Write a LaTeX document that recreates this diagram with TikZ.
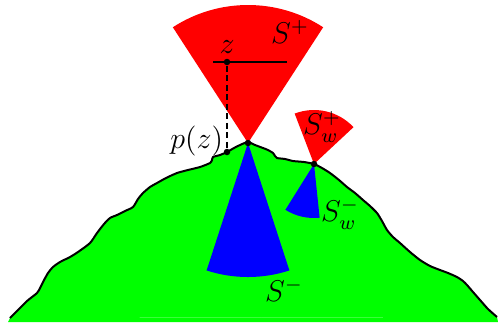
\documentclass[tikz,border=0pt]{standalone}
\usepackage{amsmath, amssymb}
\usepackage{xcolor}
\usepackage{tikz}
\usetikzlibrary{arrows.meta, positioning, calc}

\begin{document}
\begin{tikzpicture}[
    x=0.4pt, y=0.4pt,
    hill/.style={fill=green, draw=black, line width=0.8pt, line join=round},
    dot/.style={circle, fill=black, inner sep=0pt, minimum size=2.6pt},
    lbl/.style={inner sep=1pt, font=\large},
]
    \useasboundingbox (0,-322) rectangle (498,0);

    % ── Hill ─────────────────────────────────────
    \fill[green] (10,-318) -- (497,-317) -- (498,-322) -- (8,-322) -- cycle;
    \draw[hill] plot[smooth, tension=0.4] coordinates {
        (10,-318) (18,-310) (27,-301) (37,-293) (40,-288) (43,-282) (48,-273)
        (53,-267) (60,-262) (70,-257) (78,-252) (90,-243) (97,-233) (104,-224)
        (110,-218) (117,-215) (125,-211) (133,-207) (138,-199) (143,-193)
        (150,-187) (157,-183) (166,-178) (177,-173) (188,-170) (200,-167)
        (210,-163) (212,-160) (213,-157) (220,-155) (227,-152) (234,-148)
        (240,-145) (248,-142) (255,-145) (263,-148) (268,-150) (273,-153)
        (275,-156) (277,-158) (285,-159) (293,-161) (304,-162) (314,-164)
        (322,-168) (330,-173) (339,-180) (347,-187) (355,-193) (363,-200)
        (370,-206) (377,-213) (382,-221) (387,-230) (393,-237) (400,-243)
        (410,-252) (420,-260) (430,-266) (440,-270) (448,-273) (457,-277)
        (463,-281) (467,-285) (473,-292) (480,-300) (488,-309) (497,-317)};

    % ── Cones at the peak ────────────────────────
    \coordinate (peak) at (248,-143);
    \fill[blue] (peak) -- ++(-108:53.6pt) arc[start angle=-108, end angle=-72, radius=53.6pt] -- cycle;
    \fill[red]  (peak) -- ++(57:55.2pt) arc[start angle=57, end angle=123, radius=55.2pt] -- cycle;

    % ── Cones at w ───────────────────────────────
    \coordinate (w) at (314,-164);
    \fill[blue] (w) -- ++(-122:21.6pt) arc[start angle=-122, end angle=-84, radius=21.6pt] -- cycle;
    \fill[red]  (w) -- ++(43:21.6pt) arc[start angle=43, end angle=111, radius=21.6pt] -- cycle;

    % ── Point z and its projection ───────────────
    \node[dot] (z) at (227,-62) {};
    \node[dot] (pz) at (227,-152) {};
    \coordinate (zl) at (213,-62);
    \coordinate (zr) at (287,-62);
    \draw[line width=0.8pt] (zl) -- (zr);
    \draw[dash pattern=on 2.4pt off 1.4pt, line width=0.5pt] (z) -- (pz);
    \node[dot] (peakdot) at (peak) {};
    \node[dot] (wdot) at (w) {};

    % ── Labels ───────────────────────────────────
    \node[lbl] (zlabel) at (227,-47) {$z$};
    \node[lbl, anchor=east] (pzlabel) at (226,-141) {$p(z)$};
    \node[lbl] (Splus) at (290,-32) {$S^+$};
    \node[lbl] (Swplus) at (322,-127) {$S_w^+$};
    \node[lbl] (Swminus) at (340,-214) {$S_w^-$};
    \node[lbl] (Sminus) at (284,-290) {$S^-$};
\end{tikzpicture}
\end{document}
